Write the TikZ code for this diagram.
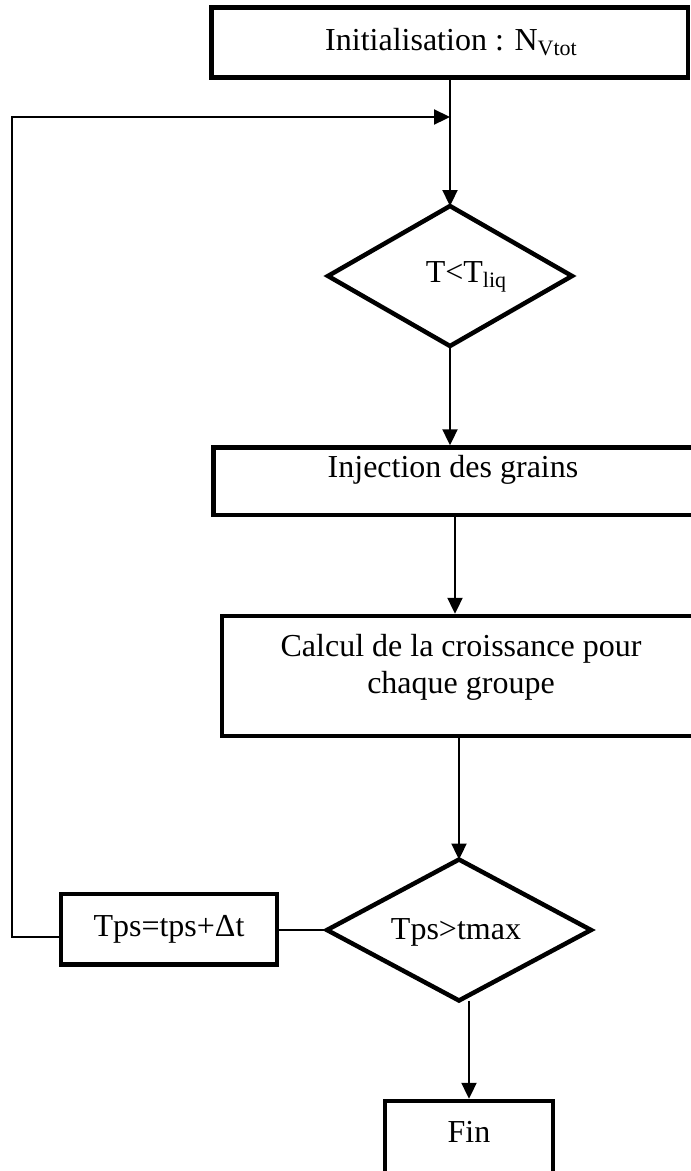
\documentclass[tikz,border=0pt]{standalone}
\usepackage{fontspec}
\setmainfont{Liberation Serif}
\usetikzlibrary{shapes.geometric,arrows.meta,calc}
\newcommand{\mysub}[1]{\raisebox{-5pt}{\fontsize{22}{22}\selectfont #1}}
\begin{document}
\begin{tikzpicture}[x=1pt,y=-1pt,
  box/.style={draw,line width=4.5pt,rectangle,inner sep=0pt,line join=miter},
  dia/.style={draw,line width=4.5pt,diamond,inner sep=0pt,outer sep=0pt,line join=miter},
  txt/.style={font=\fontsize{32}{37}\selectfont,inner sep=0pt,align=center},
  arr/.style={line width=2.3pt,line join=miter,-{Triangle[length=16pt,width=15pt]}},
  conn/.style={line width=2.3pt}]
\clip (0,0) rectangle (691,1171);
\fill[white] (0,0) rectangle (691,1171);

% boxes
\node[box,minimum width=476.5pt,minimum height=70pt] (init) at (449.75,42.5) {};
\node[dia,minimum width=244pt,minimum height=140pt] (d1) at (450,276) {};
\node[box,minimum width=486.5pt,minimum height=67.5pt] (inj) at (456.75,481.25) {};
\node[box,minimum width=478pt,minimum height=120pt] (calc) at (461,676) {};
\node[dia,minimum width=264pt,minimum height=141pt] (d2) at (459,930) {};
\node[box,minimum width=216pt,minimum height=70.5pt] (tps) at (169,929.25) {};
\node[box,minimum width=168pt,minimum height=79pt] (fin) at (469,1140.5) {};

% texts
\node[txt,anchor=base] (tinit) at (451,50) {Initialisation : N\mysub{Vtot}};
\node[txt,anchor=base] (td1) at (466,282) {T<T\mysub{liq}};
\node[txt,anchor=base] (tinj) at (453,477) {Injection des grains};
\node[txt] (tcalc) at (461,667.5) {Calcul de la croissance pour\\chaque groupe};
\node[txt,anchor=base] (td2) at (456,939) {Tps>tmax};
\node[txt,anchor=base] (ttps) at (169,936) {Tps=tps+Δt};
\node[txt,anchor=base] (tfin) at (469,1142) {Fin};

% connectors
\coordinate (merge) at (450,117);
\coordinate (loopx) at (12,0);
\coordinate (tpsl) at ([yshift=-8pt]tps.west);

\draw[arr] (init.south -| d1.north) -- (d1.north);
\draw[arr] (d1.south) -- (d1.south |- inj.north);
\draw[arr] ([xshift=-1.75pt]inj.south) -- ([xshift=-1.75pt]inj.south |- calc.north);
\draw[arr] (calc.south -| d2.north) -- (d2.north);
\draw[arr] ([xshift=10pt]d2.south) -- ([xshift=10pt]d2.south |- fin.north);
\draw[conn] (d2.west) -- (d2.west -| tps.east);
\draw[arr] (tpsl) -- (tpsl -| loopx) |- (merge);
\end{tikzpicture}
\end{document}
